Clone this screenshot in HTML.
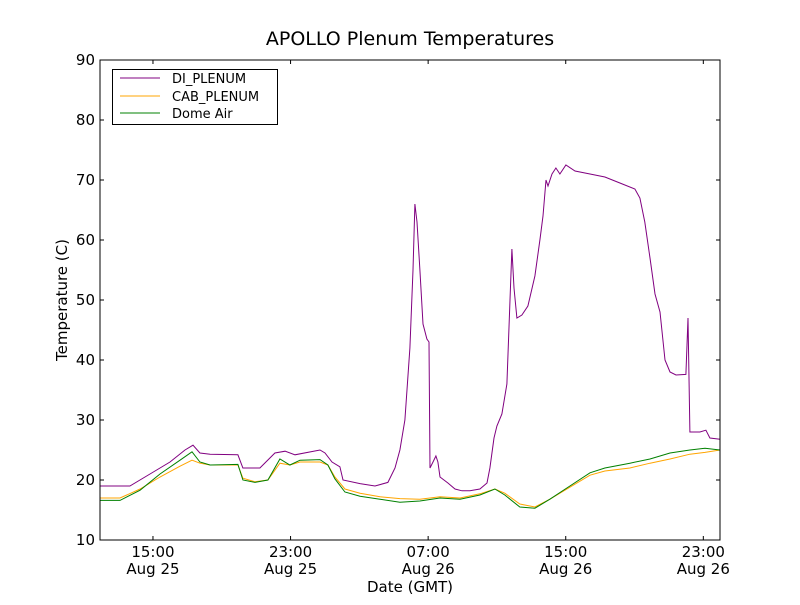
<!DOCTYPE html>
<html><head><meta charset="utf-8"><style>
body{margin:0;background:#fff}
svg text{font-family:"DejaVu Sans","Liberation Sans",sans-serif;fill:#000}
</style></head><body>
<svg id="chart" width="800" height="600">
<rect x="0" y="0" width="800" height="600" fill="#fff"/>
<text x="410" y="45" font-size="19" text-anchor="middle">APOLLO Plenum Temperatures</text>
<text x="410" y="592" font-size="15" text-anchor="middle">Date (GMT)</text>
<text transform="translate(67,300) rotate(-90)" font-size="15" text-anchor="middle">Temperature (C)</text>
<g id="ticks"></g>
<g id="series"></g>
<rect x="100" y="60" width="620" height="480" fill="none" stroke="#000" stroke-width="1"/>
<g>
<rect x="112.5" y="69.5" width="165" height="55" fill="#fff" stroke="#000"/>
<line x1="120" y1="78" x2="160" y2="78" stroke="purple"/>
<text x="172" y="83" font-size="13">DI_PLENUM</text>
<line x1="120" y1="96" x2="160" y2="96" stroke="orange"/>
<text x="172" y="101" font-size="13">CAB_PLENUM</text>
<line x1="120" y1="113" x2="160" y2="113" stroke="green"/>
<text x="172" y="118" font-size="13">Dome Air</text>
</g>
</svg>
<script>
const yTicks=[10,20,30,40,50,60,70,80,90];
const xTickHours=[15,23,31,39,47];
const xTickTimes=["15:00","23:00","07:00","15:00","23:00"];
const xTickDates=["Aug 25","Aug 25","Aug 26","Aug 26","Aug 26"];
const diTimes=[11.92,13.66,14.83,15.99,16.86,17.33,17.73,18.32,19.94,20.23,21.22,22.09,22.68,23.26,24.71,25.00,25.41,25.87,26.05,27.04,27.91,28.66,29.07,29.36,29.65,29.94,30.12,30.23,30.35,30.52,30.70,30.93,31.05,31.11,31.28,31.45,31.57,31.69,32.15,32.56,32.97,33.43,34.01,34.42,34.59,34.83,35.00,35.29,35.58,35.76,35.87,35.99,36.16,36.45,36.80,37.21,37.50,37.68,37.85,37.97,38.20,38.43,38.66,39.01,39.54,40.41,41.28,42.15,43.02,43.31,43.60,43.90,44.19,44.48,44.77,45.06,45.41,45.99,46.11,46.22,46.80,47.15,47.38,47.97];
const diValues=[19,19,21,23,25,25.8,24.5,24.3,24.2,22,22,24.5,24.8,24.2,25,24.5,23,22.2,20,19.4,19,19.6,22,25,30,42,55,66,63,55,46,43.5,43,22,23,24,23,20.5,19.5,18.5,18.2,18.2,18.5,19.5,22,27,29,31,36,50,58.5,52,47,47.5,49,54,60,64,70,69,71,72,71,72.5,71.5,71,70.5,69.5,68.5,67,63,57,51,48,40,38,37.5,37.6,47,28,28,28.3,27,26.8];
const tempTimes=[11.92,13.08,14.25,15.41,16.57,17.27,17.73,18.32,19.94,20.23,20.93,21.68,22.38,22.96,23.55,24.71,25.17,25.58,26.16,27.04,28.20,29.36,30.52,31.69,32.85,34.01,34.88,35.46,36.33,37.21,38.08,39.24,40.41,41.28,42.73,43.90,45.06,46.22,47.10,47.97];
const cabValues=[17,17,18.5,20.5,22.3,23.3,22.8,22.5,22.5,20.3,19.7,20,22.8,22.5,23,23,22.5,20.5,18.5,17.8,17.2,16.9,16.8,17.2,17,17.7,18.5,17.8,16,15.5,16.8,18.8,20.8,21.5,22,22.8,23.5,24.3,24.6,25];
const domeValues=[16.6,16.6,18.3,21,23.3,24.7,23,22.5,22.6,20,19.6,20,23.5,22.5,23.3,23.4,22.5,20.2,18,17.3,16.8,16.3,16.5,17,16.8,17.5,18.5,17.5,15.5,15.3,16.8,19,21.2,22,22.8,23.5,24.5,25,25.3,25];
const X0=100,X1=720,Y0=540,Y1=60,TMIN=11.92,TMAX=47.97,VMIN=10,VMAX=90;
function xs(t){return X0+(t-TMIN)/(TMAX-TMIN)*(X1-X0);}
function ys(v){return Y0-(v-VMIN)/(VMAX-VMIN)*(Y0-Y1);}
const NS="http://www.w3.org/2000/svg";
const tg=document.getElementById('ticks');
yTicks.forEach(v=>{
  const y=ys(v);
  [[X0,X0+4],[X1,X1-4]].forEach(p=>{const l=document.createElementNS(NS,'line');l.setAttribute('x1',p[0]);l.setAttribute('x2',p[1]);l.setAttribute('y1',y);l.setAttribute('y2',y);l.setAttribute('stroke','#000');
  
  
  tg.appendChild(l);});
  const t=document.createElementNS(NS,'text');t.setAttribute('x',X0-5);t.setAttribute('y',y+5);t.setAttribute('font-size','15');t.setAttribute('text-anchor','end');t.textContent=v;
  
  
  tg.appendChild(t);
});
xTickHours.forEach((h,i)=>{
  const x=xs(h);
  [[Y0,Y0-4],[Y1,Y1+4]].forEach(p=>{const l=document.createElementNS(NS,'line');l.setAttribute('x1',x);l.setAttribute('x2',x);l.setAttribute('y1',p[0]);l.setAttribute('y2',p[1]);l.setAttribute('stroke','#000');
  
  
  tg.appendChild(l);});
  const t=document.createElementNS(NS,'text');t.setAttribute('x',x);t.setAttribute('y',557);t.setAttribute('font-size','15');t.setAttribute('text-anchor','middle');t.textContent=xTickTimes[i];
  
  
  tg.appendChild(t);
  const d=document.createElementNS(NS,'text');d.setAttribute('x',x);d.setAttribute('y',574);d.setAttribute('font-size','15');d.setAttribute('text-anchor','middle');d.textContent=xTickDates[i];
  
  
  tg.appendChild(d);
});
const sg=document.getElementById('series');
function line(ts,vs,color,name){
  const p=document.createElementNS(NS,'polyline');
  p.setAttribute('points',ts.map((t,i)=>xs(t).toFixed(1)+','+ys(vs[i]).toFixed(1)).join(' '));
  p.setAttribute('fill','none');p.setAttribute('stroke',color);p.setAttribute('stroke-width','1');
  
  
  sg.appendChild(p);
}
line(tempTimes,cabValues,'orange','cab-plenum-line');
line(tempTimes,domeValues,'green','dome-air-line');
line(diTimes,diValues,'purple','di-plenum-line');
</script>
</body></html>
